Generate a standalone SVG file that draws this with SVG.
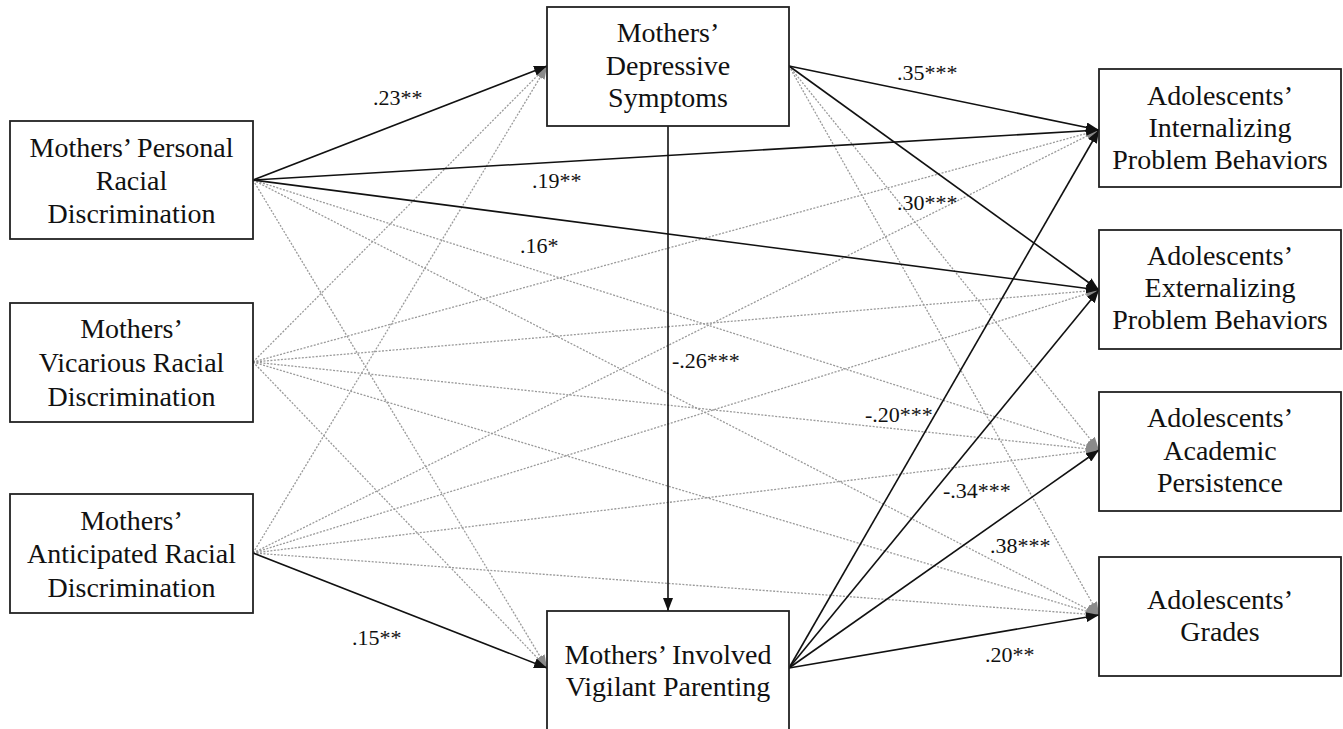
<svg xmlns="http://www.w3.org/2000/svg" width="1343" height="729" viewBox="0 0 1343 729">
<defs>
<style>
.box{fill:#fff;stroke:#222;stroke-width:1.8}
.t{font-family:"Liberation Serif","Times New Roman",serif;font-size:28px;fill:#111;text-anchor:middle}
.lbl{font-family:"Liberation Serif","Times New Roman",serif;font-size:22px;fill:#111}
.s{stroke:#111;stroke-width:1.6;fill:none;marker-end:url(#ab)}
.d{stroke:#9a9a9a;stroke-width:1.3;stroke-dasharray:2 1.5;fill:none;marker-end:url(#ag)}
</style>
<marker id="ab" markerUnits="userSpaceOnUse" markerWidth="13" markerHeight="10" refX="13" refY="5" orient="auto">
<path d="M0,0 L13,5 L0,10 z" fill="#111"/>
</marker>
<marker id="ag" markerUnits="userSpaceOnUse" markerWidth="13" markerHeight="10" refX="13" refY="5" orient="auto">
<path d="M0,0 L13,5 L0,10 z" fill="#8a8a8a"/>
</marker>
</defs>
<rect width="1343" height="729" fill="#fff"/>

<g id="connectors">
<!-- dotted (non-significant) -->
<line class="d" x1="253" y1="180" x2="547" y2="668"/>
<line class="d" x1="253" y1="180" x2="1099" y2="450"/>
<line class="d" x1="253" y1="180" x2="1099" y2="615"/>
<line class="d" x1="253" y1="362" x2="547" y2="66"/>
<line class="d" x1="253" y1="362" x2="547" y2="668"/>
<line class="d" x1="253" y1="362" x2="1099" y2="130"/>
<line class="d" x1="253" y1="362" x2="1099" y2="290"/>
<line class="d" x1="253" y1="362" x2="1099" y2="450"/>
<line class="d" x1="253" y1="362" x2="1099" y2="615"/>
<line class="d" x1="253" y1="553" x2="547" y2="66"/>
<line class="d" x1="253" y1="553" x2="1099" y2="130"/>
<line class="d" x1="253" y1="553" x2="1099" y2="290"/>
<line class="d" x1="253" y1="553" x2="1099" y2="450"/>
<line class="d" x1="253" y1="553" x2="1099" y2="615"/>
<line class="d" x1="789" y1="66" x2="1099" y2="450"/>
<line class="d" x1="789" y1="66" x2="1099" y2="615"/>
<!-- solid (significant) -->
<line class="s" x1="253" y1="180" x2="547" y2="66"/>
<line class="s" x1="253" y1="180" x2="1099" y2="130"/>
<line class="s" x1="253" y1="180" x2="1099" y2="290"/>
<line class="s" x1="253" y1="553" x2="547" y2="668"/>
<line class="s" x1="789" y1="66" x2="1099" y2="130"/>
<line class="s" x1="789" y1="66" x2="1099" y2="290"/>
<line class="s" x1="668" y1="126" x2="668" y2="611"/>
<line class="s" x1="789" y1="668" x2="1099" y2="130"/>
<line class="s" x1="789" y1="668" x2="1099" y2="290"/>
<line class="s" x1="789" y1="668" x2="1099" y2="450"/>
<line class="s" x1="789" y1="668" x2="1099" y2="615"/>
</g>

<g id="labels">
<text class="lbl" x="373" y="105">.23**</text>
<text class="lbl" x="532" y="188">.19**</text>
<text class="lbl" x="520" y="253">.16*</text>
<text class="lbl" x="352" y="645">.15**</text>
<text class="lbl" x="897" y="80">.35***</text>
<text class="lbl" x="897" y="210">.30***</text>
<text class="lbl" x="672" y="368">-.26***</text>
<text class="lbl" x="865" y="422">-.20***</text>
<text class="lbl" x="943" y="498">-.34***</text>
<text class="lbl" x="990" y="553">.38***</text>
<text class="lbl" x="985" y="662">.20**</text>
</g>

<g id="personal">
<rect class="box" x="10" y="121" width="243" height="118"/>
<text class="t" x="131.5" y="157">Mothers’ Personal</text>
<text class="t" x="131.5" y="190">Racial</text>
<text class="t" x="131.5" y="223">Discrimination</text>
</g>
<g id="vicarious">
<rect class="box" x="10" y="303" width="243" height="119"/>
<text class="t" x="131.5" y="338">Mothers’</text>
<text class="t" x="131.5" y="372">Vicarious Racial</text>
<text class="t" x="131.5" y="406">Discrimination</text>
</g>
<g id="anticipated">
<rect class="box" x="10" y="494" width="243" height="119"/>
<text class="t" x="131.5" y="530">Mothers’</text>
<text class="t" x="131.5" y="563">Anticipated Racial</text>
<text class="t" x="131.5" y="597">Discrimination</text>
</g>
<g id="depressive">
<rect class="box" x="547" y="7" width="242" height="119"/>
<text class="t" x="668" y="42">Mothers’</text>
<text class="t" x="668" y="75">Depressive</text>
<text class="t" x="668" y="107">Symptoms</text>
</g>
<g id="vigilant">
<rect class="box" x="547" y="611" width="242" height="140"/>
<text class="t" x="668" y="664">Mothers’ Involved</text>
<text class="t" x="668" y="696">Vigilant Parenting</text>
</g>
<g id="internalizing">
<rect class="box" x="1099" y="69" width="242" height="118"/>
<text class="t" x="1220" y="105">Adolescents’</text>
<text class="t" x="1220" y="137">Internalizing</text>
<text class="t" x="1220" y="169">Problem Behaviors</text>
</g>
<g id="externalizing">
<rect class="box" x="1099" y="230" width="242" height="119"/>
<text class="t" x="1220" y="265">Adolescents’</text>
<text class="t" x="1220" y="297">Externalizing</text>
<text class="t" x="1220" y="329">Problem Behaviors</text>
</g>
<g id="academic">
<rect class="box" x="1099" y="392" width="242" height="119"/>
<text class="t" x="1220" y="427">Adolescents’</text>
<text class="t" x="1220" y="460">Academic</text>
<text class="t" x="1220" y="492">Persistence</text>
</g>
<g id="grades">
<rect class="box" x="1099" y="557" width="242" height="119"/>
<text class="t" x="1220" y="609">Adolescents’</text>
<text class="t" x="1220" y="641">Grades</text>
</g>
</svg>
